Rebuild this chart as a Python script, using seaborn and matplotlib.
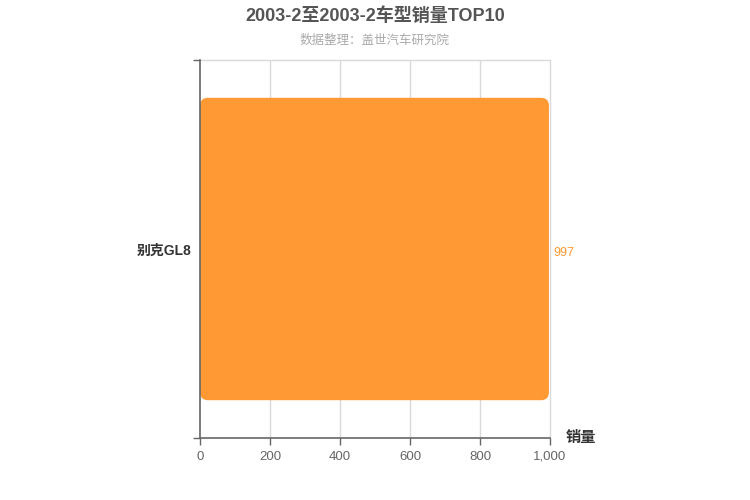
import matplotlib
matplotlib.use("Agg")
import matplotlib.pyplot as plt
from matplotlib.patches import FancyBboxPatch
from matplotlib.ticker import FuncFormatter
import seaborn as sns
import pandas as pd

# data
models = ["别克GL8"]
sales = [997]
title = "2003-2至2003-2车型销量TOP10"
subtitle = "数据整理：盖世汽车研究院"

sns.set_style("white")
plt.rcParams['font.family'] = ['Liberation Sans', 'Noto Sans CJK SC', 'DejaVu Sans']

df = pd.DataFrame({"model": models, "sales": sales})

fig = plt.figure(figsize=(7.5, 5), dpi=100)
ax = fig.add_axes([200 / 750, 1 - 438 / 500, 350 / 750, 378 / 500])

bar_color = "#FF9933"
sns.barplot(data=df, x="sales", y="model", orient="h", color=bar_color,
            width=0.8, saturation=1, ax=ax, zorder=3)

ax.set_xlim(0, 1000)
ax.set_ylim(len(models) - 0.5, -0.5)

# swap bars for rounded ones
r_px = 8
x_per_px = 1000 / 350
y_per_px = len(models) / 378
for p in list(ax.patches):
    x0, y0 = p.get_x(), p.get_y()
    w, h = p.get_width(), p.get_height()
    p.remove()
    rb = FancyBboxPatch((x0, y0), w, h,
                        boxstyle=f"round,pad=0,rounding_size={r_px * x_per_px}",
                        mutation_aspect=y_per_px / x_per_px,
                        facecolor=bar_color, edgecolor="none", zorder=3)
    ax.add_patch(rb)

# value labels (nudged down a few px to sit on the bar centre)
for i, v in enumerate(sales):
    ax.text(v + 12, i + 4 * y_per_px, f"{v}", color=bar_color, fontsize=9,
            va="center", ha="left")

# grid and axes
xticks = [0, 200, 400, 600, 800, 1000]
ax.set_xticks(xticks)
ax.xaxis.set_major_formatter(FuncFormatter(lambda v, _: f"{int(v):,}"))
ax.grid(False)
for t in xticks[1:]:
    ax.axvline(t, color="#d9d9d9", linewidth=1, zorder=0, clip_on=False)
ax.axhline(-0.5, color="#d9d9d9", linewidth=1, zorder=0, clip_on=False)

for s in ["top", "right"]:
    ax.spines[s].set_visible(False)
for s in ["left", "bottom"]:
    ax.spines[s].set_color("#666666")
    ax.spines[s].set_linewidth(1.2)
    ax.spines[s].set_zorder(4)

ax.tick_params(axis="x", colors="#666666", labelsize=9.5, length=5, width=1, direction="out",
               bottom=True, pad=4)
ax.set_yticks([-0.5, len(models) - 0.5], minor=False)
ax.set_yticks(range(len(models)), minor=True)
ax.set_yticklabels([], minor=False)
ax.set_yticklabels(models, minor=True, fontweight="bold", fontsize=10)
ax.tick_params(axis="y", which="minor", length=0, pad=6)
ax.tick_params(axis="y", which="major", colors="#666666", length=5, width=1, left=True)
for lbl in ax.get_yticklabels(minor=True):
    lbl.set_color("#333333")

ax.set_xlabel("")
ax.set_ylabel("")
ax.text(1000 + 45, len(models) - 0.5, "销量", fontsize=11, fontweight="bold",
        color="#333333", ha="left", va="center")

fig.text(0.5, 1 - 16 / 500, title, ha="center", va="center", fontsize=13,
         fontweight="bold", color="#555555")
fig.text(0.5, 1 - 41 / 500, subtitle, ha="center", va="center", fontsize=9,
         color="#aaaaaa")

fig.savefig("out.png", dpi=100)
